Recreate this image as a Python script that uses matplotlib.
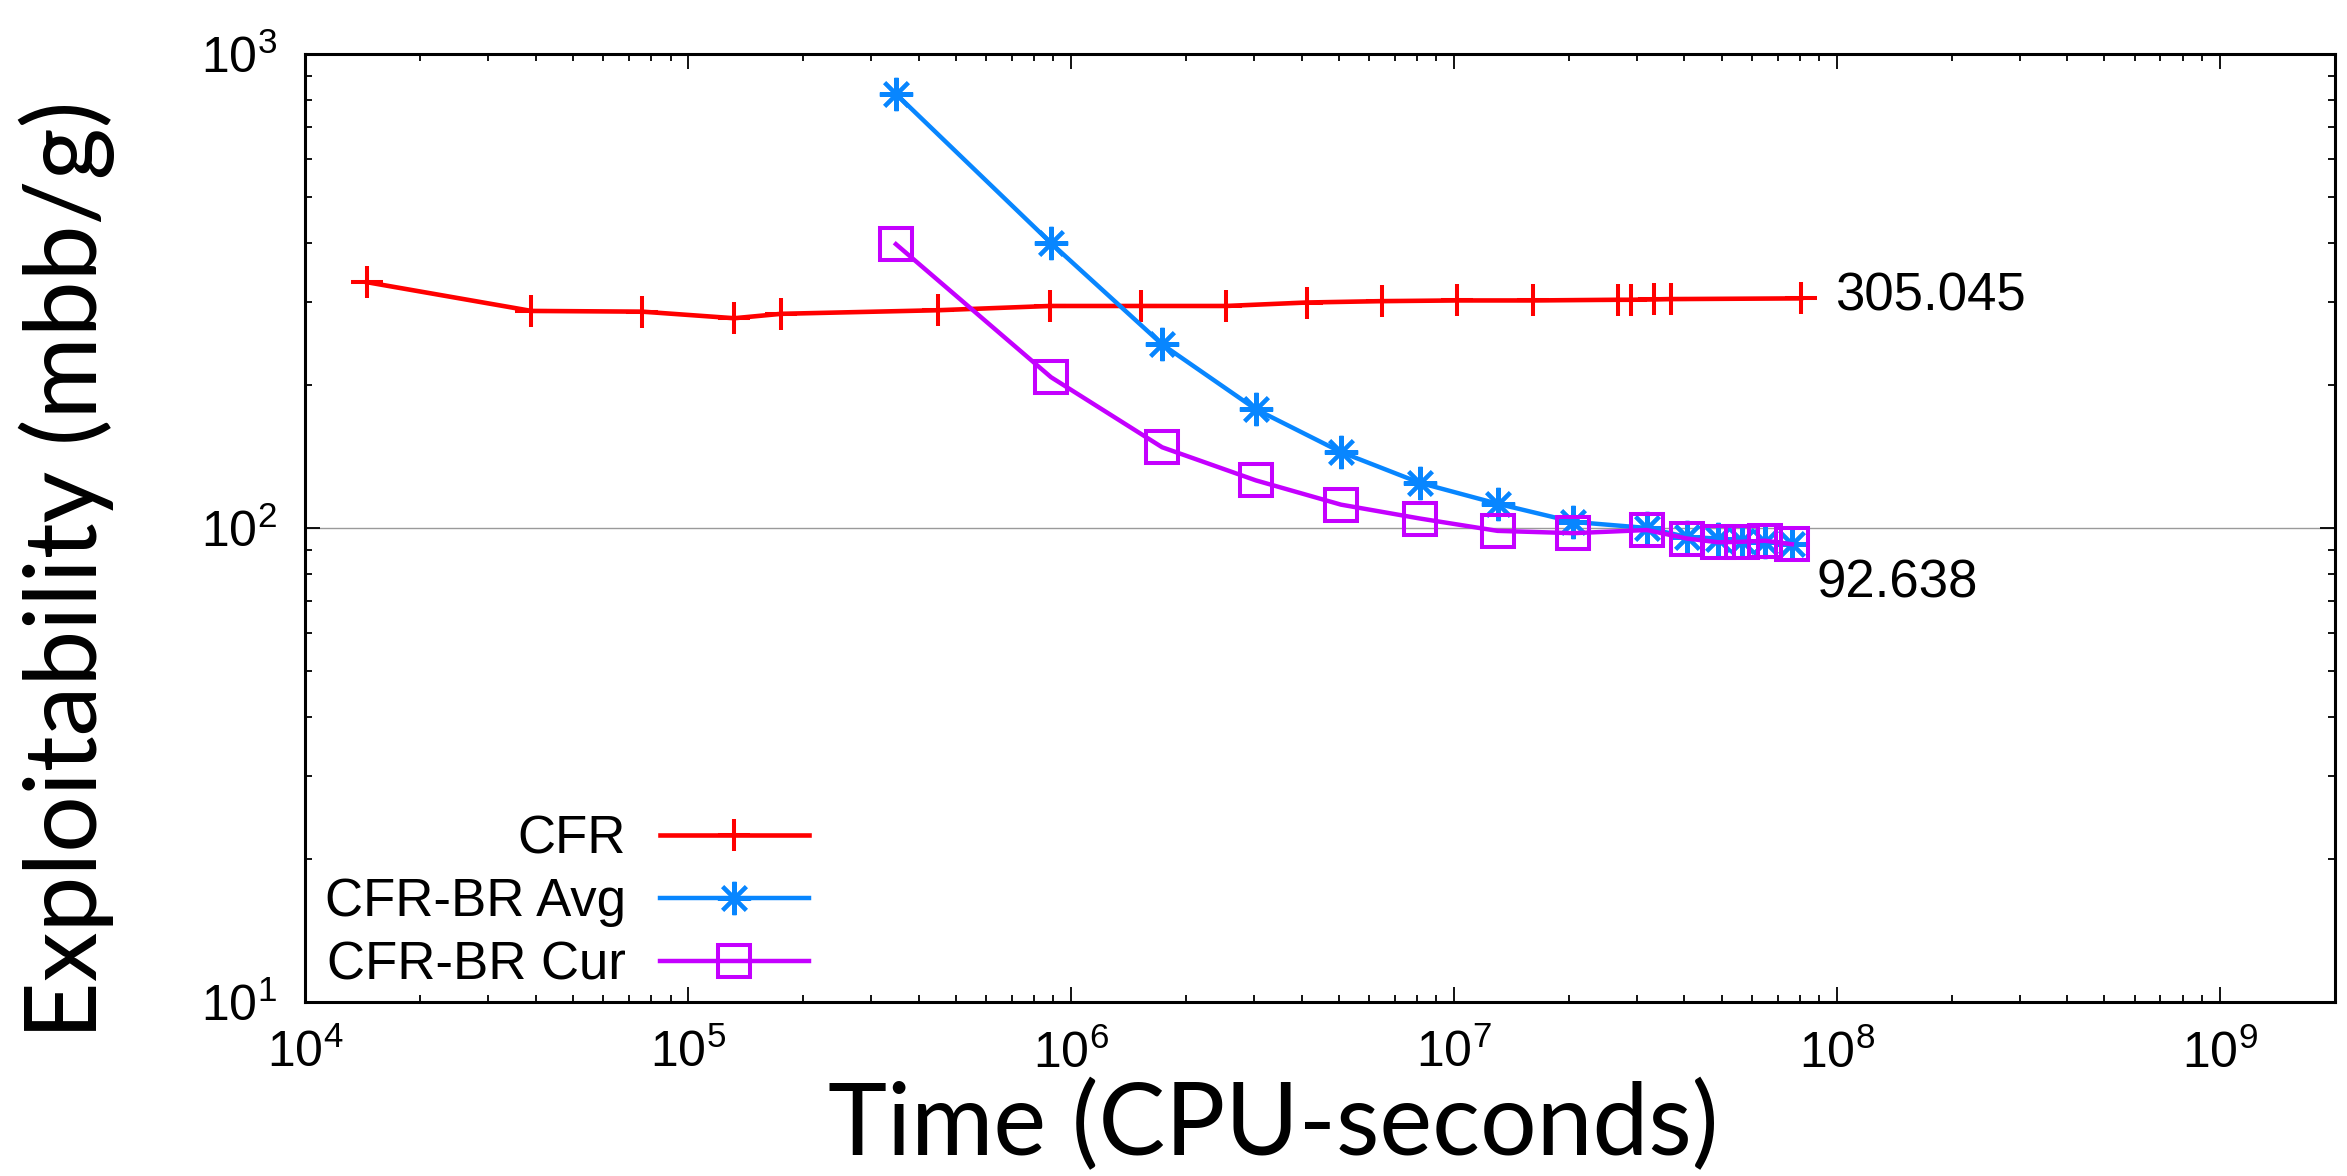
import matplotlib
matplotlib.use('Agg')
import matplotlib.pyplot as plt
from matplotlib.ticker import LogLocator, NullFormatter, LogFormatterSciNotation

plt.rcParams['font.family'] = ['Liberation Sans', 'DejaVu Sans']
plt.rcParams['mathtext.fontset'] = 'custom'
plt.rcParams['mathtext.rm'] = 'Liberation Sans'
plt.rcParams['mathtext.it'] = 'Liberation Sans:italic'
plt.rcParams['mathtext.bf'] = 'Liberation Sans:bold'
plt.rcParams['mathtext.default'] = 'regular'

# ---- data ----
cfr_time = [1.45e4, 3.9e4, 7.6e4, 1.32e5, 1.75e5, 4.5e5, 8.8e5, 1.52e6, 2.54e6,
            4.13e6, 6.5e6, 1.02e7, 1.61e7, 2.68e7, 2.9e7, 3.33e7, 3.69e7, 8.06e7]
cfr_expl = [330, 287, 286, 277, 283, 288, 294, 294, 294,
            299, 301, 302, 302, 303, 303, 303.5, 304, 305.045]

br_time = [3.49e5, 8.87e5, 1.73e6, 3.04e6, 5.07e6, 8.15e6, 1.30e7, 2.05e7,
           3.19e7, 4.06e7, 4.89e7, 5.65e7, 6.49e7, 7.63e7]
avg_expl = [824, 399, 244, 178, 144.6, 124.5, 112.5, 103,
            100, 95.7, 95, 94, 93.5, 92.638]
cur_expl = [397, 208, 148, 126, 112, 104.7, 98.6, 97.5,
            99, 95, 93.3, 93.5, 94, 92.4]

labels = ["CFR", "CFR-BR Avg", "CFR-BR Cur"]
xlabel = "Time (CPU-seconds)"
ylabel = "Exploitability (mbb/g)"

# ---- figure ----
fig = plt.figure(figsize=(23.47, 11.76), dpi=100)
ax = fig.add_axes([0.130, 0.148, 0.8649, 0.8061])

ax.plot(cfr_time, cfr_expl, color='#ff0000', lw=3.3, marker='+', ms=23, mew=2.9,
        label=labels[0], zorder=3)
ax.plot(br_time, avg_expl, color='#0886ff', lw=3.2, marker=(8, 2, 0), ms=24, mew=2.9,
        label=labels[1], zorder=4)
ax.plot(br_time, cur_expl, color='#c400ff', lw=3.2, marker='s', ms=23.5, mew=2.9,
        mfc='none', label=labels[2], zorder=5)

ax.annotate(f"{cfr_expl[-1]:.3f}", xy=(cfr_time[-1], cfr_expl[-1]), xytext=(24.5, -8.6),
            textcoords='offset points', ha='left', va='baseline', fontsize=38)
ax.annotate(f"{avg_expl[-1]:.3f}", xy=(br_time[-1], avg_expl[-1]), xytext=(18, -38.9),
            textcoords='offset points', ha='left', va='baseline', fontsize=38)

ax.set_xscale('log')
ax.set_yscale('log')
ax.set_xlim(1e4, 2e9)
ax.set_ylim(10, 1000)

for axis in (ax.xaxis, ax.yaxis):
    axis.set_major_locator(LogLocator(base=10, numticks=20))
    axis.set_minor_locator(LogLocator(base=10, subs=range(2, 10), numticks=20))
    axis.set_minor_formatter(NullFormatter())
    axis.set_major_formatter(LogFormatterSciNotation())

ax.tick_params(which='both', direction='in', top=True, right=True)
ax.tick_params(which='major', length=11, width=1.3, labelsize=36, pad=20)
ax.tick_params(which='minor', length=5, width=1.3)
for s in ax.spines.values():
    s.set_linewidth(2.2)

ax.yaxis.grid(True, which='major', color='#9a9a9a', lw=1.0)
ax.set_axisbelow(True)

ax.set_xlabel(xlabel, fontsize=72, family=['Lato', 'DejaVu Sans'], va='baseline')
ax.set_ylabel(ylabel, fontsize=72, family=['Lato', 'DejaVu Sans'], va='baseline')
ax.xaxis.set_label_coords(0.477, -0.1614)
ax.yaxis.set_label_coords(-0.1025, 0.456)

ax.legend(loc='lower left', bbox_to_anchor=(0.0099, 0.012), markerfirst=False,
          frameon=False, fontsize=38, handlelength=2.82, handletextpad=0.64,
          labelspacing=0.25, borderpad=0, borderaxespad=0)

fig.savefig('out.png', dpi=100)
